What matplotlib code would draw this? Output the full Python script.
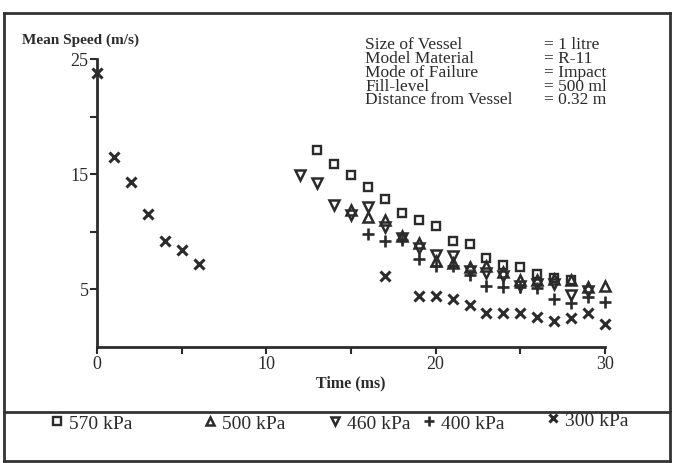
import numpy as np
import matplotlib
matplotlib.use("Agg")
import matplotlib.pyplot as plt
from matplotlib.lines import Line2D

# mean fragment speed (m/s) against time (ms)
t_570 = [13, 14, 15, 16, 17, 18, 19, 20, 21, 22, 23, 24, 25, 26, 27, 28]
v_570 = [17.1, 15.9, 14.9, 13.9, 12.8, 11.6, 11.0, 10.5, 9.2, 8.9, 7.7, 7.1, 6.9, 6.3, 6.0, 5.8]

t_500 = [15, 16, 17, 18, 19, 20, 21, 22, 23, 24, 25, 26, 27, 28, 29, 30]
v_500 = [11.9, 11.3, 11.0, 9.6, 9.0, 7.4, 7.3, 6.9, 7.0, 6.5, 5.8, 5.8, 5.9, 5.8, 5.2, 5.3]

t_460 = [12, 13, 14, 15, 16, 17, 18, 19, 20, 21, 22, 23, 24, 25, 26, 27, 28, 29]
v_460 = [14.9, 14.2, 12.3, 11.4, 12.1, 10.4, 9.4, 8.6, 8.0, 7.9, 6.6, 6.4, 6.1, 5.3, 5.4, 5.4, 4.5, 4.8]

t_400 = [16, 17, 18, 19, 20, 21, 22, 23, 24, 25, 26, 27, 28, 29, 30]
v_400 = [9.8, 9.2, 9.3, 7.6, 7.0, 7.0, 6.2, 5.3, 5.2, 5.2, 5.1, 4.1, 3.8, 4.3, 3.9]

t_300 = [0, 1, 2, 3, 4, 5, 6, 17, 19, 20, 21, 22, 23, 24, 25, 26, 27, 28, 29, 30]
v_300 = [23.8, 16.5, 14.3, 11.5, 9.2, 8.4, 7.2, 6.1, 4.4, 4.4, 4.1, 3.6, 2.9, 2.9, 2.9,
         2.6, 2.2, 2.5, 2.9, 2.0]

labels = ["570 kPa", "500 kPa", "460 kPa", "400 kPa", "300 kPa"]

info_keys = ["Size of Vessel", "Model Material", "Mode of Failure", "Fill-level",
             "Distance from Vessel"]
info_vals = ["= 1 litre", "= R-11", "= Impact", "= 500 ml", "= 0.32 m"]

ink = "#2b2b2b"
plt.rcParams["font.family"] = ["Liberation Serif", "DejaVu Serif"]

W, H = 676, 464
fig = plt.figure(figsize=(W / 100, H / 100), dpi=100)
ax = fig.add_axes([97 / W, 1 - 347.5 / H, 508 / W, 287.5 / H])

series = [
    (t_570, v_570, dict(marker="s", ms=6, mfc="none", mew=1.7)),
    (t_500, v_500, dict(marker="^", ms=6.5, mfc="none", mew=1.8)),
    (t_460, v_460, dict(marker="v", ms=6.5, mfc="none", mew=1.8)),
    (t_400, v_400, dict(marker="+", ms=8, mew=1.9)),
    (t_300, v_300, dict(marker="x", ms=6.5, mew=2.2)),
]
handles = []
for (t, v, style), lab in zip(series, labels):
    h, = ax.plot(t, v, ls="none", color=ink, mec=ink, clip_on=False, label=lab, **style)
    handles.append(h)

ax.set_xlim(0, 30)
ax.set_ylim(0, 25)
ax.set_xticks(np.arange(0, 31, 5))
ax.set_xticklabels(["0", "", "10", "", "20", "", "30"])
ax.set_yticks(np.arange(5, 26, 5))
ax.set_yticklabels(["5", "", "15", "", "25"])
for side in ["top", "right"]:
    ax.spines[side].set_visible(False)
for side in ["left", "bottom"]:
    ax.spines[side].set_linewidth(2)
    ax.spines[side].set_color(ink)
ax.tick_params(direction="out", length=5, width=1.5, colors=ink, labelsize=13, pad=1)

fig.text(22 / W, 1 - 40 / H, "Mean Speed (m/s)", fontsize=11, fontweight="bold",
         color=ink, va="center", ha="left")
ax.set_xlabel("Time (ms)", fontsize=11.5, fontweight="bold", color=ink, labelpad=2)

# test conditions block, one text per column
fig.text(365 / W, 1 - 37 / H, "\n".join(info_keys), fontsize=12.5, color=ink,
         va="top", ha="left", linespacing=0.82)
fig.text(544 / W, 1 - 37 / H, "\n".join(info_vals), fontsize=12.5, color=ink,
         va="top", ha="left", linespacing=0.82)

# outer frame and legend separator
frame = dict(color="#333333", lw=2, transform=fig.transFigure)
x0, x1 = 4 / W, 670 / W
y_top, y_sep, y_bot = 1 - 14 / H, 1 - 413 / H, 1 - 462 / H
fig.add_artist(Line2D([x0, x1], [y_top, y_top], **frame))
fig.add_artist(Line2D([x0, x1], [y_sep, y_sep], **frame))
fig.add_artist(Line2D([x0, x1], [y_bot, y_bot], **frame))
fig.add_artist(Line2D([x0, x0], [y_bot, y_top], **frame))
fig.add_artist(Line2D([x1, x1], [y_bot, y_top], **frame))

# legend row: one entry per pressure, spaced as in the original
leg_x = [50, 203, 328, 422, 546]
leg_y = [424, 424, 424, 424, 421]
for h, lx, ly in zip(handles, leg_x, leg_y):
    leg = fig.legend(handles=[h], loc="center left", bbox_to_anchor=(lx / W, 1 - ly / H),
                     frameon=False, fontsize=14, handlelength=0.7, handletextpad=0.3,
                     borderpad=0, borderaxespad=0, markerscale=0.9)
    for txt in leg.get_texts():
        txt.set_color(ink)

fig.savefig("out.png", dpi=100, facecolor="white")
